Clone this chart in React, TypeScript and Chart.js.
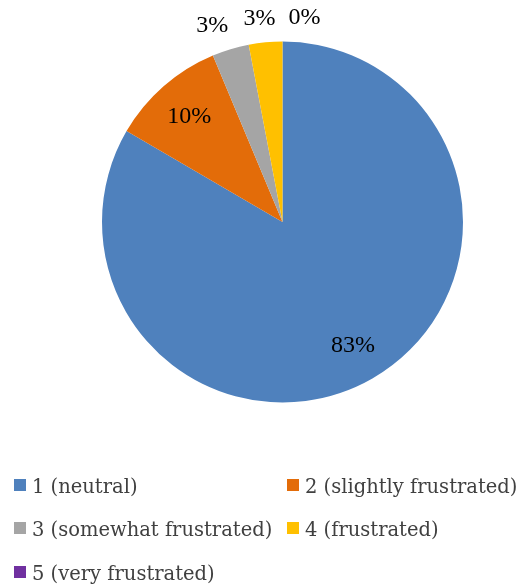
import React, { useEffect, useRef } from "react";
import { Chart, registerables } from "chart.js";

Chart.register(...registerables);

const categories = [
  "1 (neutral)",
  "2 (slightly frustrated)",
  "3 (somewhat frustrated)",
  "4 (frustrated)",
  "5 (very frustrated)",
];
const values = [83.4, 10.3, 3.3, 3.0, 0];
const colors = ["#4F81BD", "#E36C09", "#A5A5A5", "#FFC000", "#7030A0"];

const W = 531;
const H = 587;

const labelPlugin = {
  id: "pieLabels",
  afterDatasetsDraw(chart: any) {
    const ctx = chart.ctx;
    const meta = chart.getDatasetMeta(0);
    const total = values.reduce((a, b) => a + b, 0);
    ctx.save();
    ctx.font = '24px "Liberation Serif"';
    ctx.fillStyle = "#000000";
    ctx.textAlign = "center";
    ctx.textBaseline = "middle";
    let prevRight = -Infinity;
    meta.data.forEach((arc: any, i: number) => {
      const { x, y, startAngle, endAngle, outerRadius } = arc.getProps(
        ["x", "y", "startAngle", "endAngle", "outerRadius"],
        true
      );
      const mid = (startAngle + endAngle) / 2;
      const pct = (values[i] / total) * 100;
      const text = Math.round(pct) + "%";
      const w = ctx.measureText(text).width;
      const c = Math.cos(mid);
      const s = Math.sin(mid);
      if (pct >= 5) {
        const d = outerRadius * 0.785;
        ctx.fillText(text, x + c * d, y + s * d + 1);
      } else {
        const d = outerRadius + 15;
        const k = Math.max(-1, Math.min(1, c * 3));
        let cx = x + c * d + (w / 2) * k;
        const cy = y + s * d + 9 * s;
        if (cx - w / 2 < prevRight + 13) cx = prevRight + 13 + w / 2;
        prevRight = cx + w / 2;
        ctx.fillText(text, cx, cy);
      }
    });
    ctx.restore();
  },
};

export default function App() {
  const ref = useRef<HTMLCanvasElement>(null);
  useEffect(() => {
    if (!ref.current) return;
    const chart = new Chart(ref.current, {
      type: "pie",
      data: {
        labels: categories,
        datasets: [
          {
            data: values,
            backgroundColor: colors,
            borderWidth: 0,
            hoverBorderWidth: 0,
            hoverOffset: 0,
            offset: 0,
          },
        ],
      },
      options: {
        animation: false,
        responsive: false,
        devicePixelRatio: 1,
        layout: { padding: { left: 102, right: 68, top: 41.5, bottom: 184.5 } },
        plugins: { legend: { display: false }, tooltip: { enabled: false } },
      },
      plugins: [labelPlugin],
    });
    return () => chart.destroy();
  }, []);

  const colX = [14, 287];
  const rowY = [479, 522, 566];

  return (
    <div style={{ position: "absolute", left: 0, top: 0, width: W, height: H, background: "#fff" }}>
      <canvas ref={ref} width={W} height={H} style={{ position: "absolute", left: 0, top: 0 }} />
      {categories.map((c, i) => {
        const x = colX[i % 2];
        const y = rowY[Math.floor(i / 2)];
        return (
          <React.Fragment key={c}>
            <div
              style={{
                position: "absolute",
                left: x,
                top: y,
                width: 12,
                height: 12,
                background: colors[i],
              }}
            />
            <div
              style={{
                position: "absolute",
                left: x + 18,
                top: y - 2.5,
                fontFamily: '"DejaVu Serif"',
                fontSize: 19.5,
                lineHeight: "19.5px",
                color: "#404040",
                whiteSpace: "nowrap",
              }}
            >
              {c}
            </div>
          </React.Fragment>
        );
      })}
    </div>
  );
}
